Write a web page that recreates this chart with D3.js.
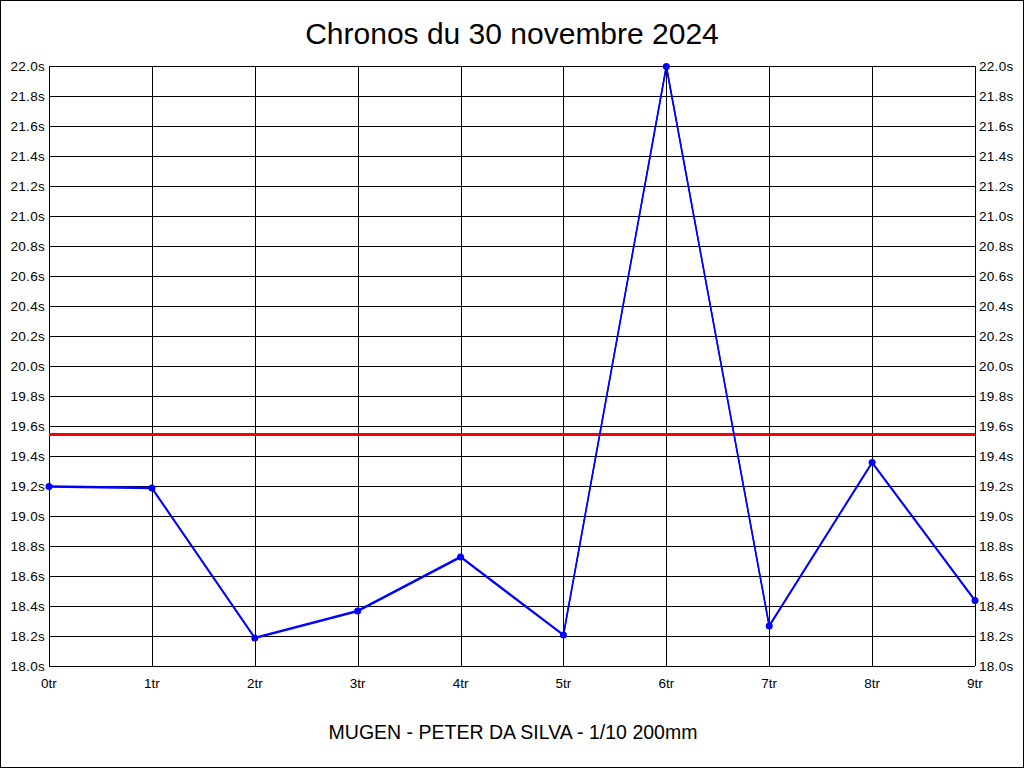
<!DOCTYPE html>
<html>
<head>
<meta charset="utf-8">
<script src="https://cdn.jsdelivr.net/npm/d3@7/dist/d3.min.js"></script>
<style>
  body { margin: 0; background: white; }
  text { font-family: "Liberation Sans", Arial, sans-serif; }
</style>
</head>
<body>
<script>
var width = 1024
var height = 768

var titleText = "Chronos du 30 novembre 2024"
var footerText = "MUGEN - PETER DA SILVA - 1/10 200mm"

// laps and times (seconds)
var laps = ["0tr", "1tr", "2tr", "3tr", "4tr", "5tr", "6tr", "7tr", "8tr", "9tr"]
var times = [19.20, 19.19, 18.19, 18.37, 18.73, 18.21, 22.00, 18.27, 19.36, 18.44]
var refTime = 19.545
var yTicks = [18.0, 18.2, 18.4, 18.6, 18.8, 19.0, 19.2, 19.4, 19.6, 19.8, 20.0,
              20.2, 20.4, 20.6, 20.8, 21.0, 21.2, 21.4, 21.6, 21.8, 22.0]

var lineColor = "#0000ff"
var refColor = "#ff0000"

var margin = { left: 49, right: 49, top: 66, bottom: 102 }

var svg = d3.select("body")
    .append("svg")
    .attr("width", width)
    .attr("height", height)

// outer frame
svg.append("rect")
    .attr("x", 0.5).attr("y", 0.5)
    .attr("width", width - 1).attr("height", height - 1)
    .attr("fill", "white")
    .attr("stroke", "black")

var x = d3.scalePoint()
    .domain(laps)
    .range([margin.left, width - margin.right])

var y = d3.scaleLinear()
    .domain([18, 22])
    .range([height - margin.bottom, margin.top])

var grid = svg.append("g")
    .attr("shape-rendering", "crispEdges")
    .attr("stroke", "black")

grid.selectAll(".hgrid")
    .data(yTicks)
    .enter()
    .append("line")
    .attr("x1", margin.left).attr("x2", width - margin.right)
    .attr("y1", (d) => Math.round(y(d)) + 0.5)
    .attr("y2", (d) => Math.round(y(d)) + 0.5)

grid.selectAll(".vgrid")
    .data(laps)
    .enter()
    .append("line")
    .attr("x1", (d) => Math.round(x(d)) + 0.5)
    .attr("x2", (d) => Math.round(x(d)) + 0.5)
    .attr("y1", margin.top).attr("y2", height - margin.bottom)

// y labels, left and right
var fmt = (d) => d3.format(".1f")(d) + "s"

svg.selectAll(".ylabL")
    .data(yTicks)
    .enter()
    .append("text")
    .attr("x", margin.left - 4)
    .attr("y", (d) => y(d) + 5)
    .attr("text-anchor", "end")
    .attr("font-size", 13.5)
    .attr("letter-spacing", 0.3)
    .text(fmt)

svg.selectAll(".ylabR")
    .data(yTicks)
    .enter()
    .append("text")
    .attr("x", width - margin.right + 4)
    .attr("y", (d) => y(d) + 5)
    .attr("font-size", 13.5)
    .attr("letter-spacing", 0.3)
    .text(fmt)

svg.selectAll(".xlab")
    .data(laps)
    .enter()
    .append("text")
    .attr("x", (d) => x(d))
    .attr("y", height - margin.bottom + 22)
    .attr("text-anchor", "middle")
    .attr("font-size", 13.5)
    .text((d) => d)

// reference line
svg.append("line")
    .attr("x1", margin.left).attr("x2", width - margin.right)
    .attr("y1", y(refTime)).attr("y2", y(refTime))
    .attr("stroke", refColor)
    .attr("stroke-width", 3)
    .attr("shape-rendering", "crispEdges")

// lap times line, drawn twice one pixel apart like the original
var line = d3.line()
    .x((d, i) => x(laps[i]))
    .y((d) => y(d))

svg.selectAll(".lap")
    .data([0, 1])
    .enter()
    .append("path")
    .attr("d", line(times))
    .attr("transform", (d) => "translate(0," + d + ")")
    .attr("fill", "none")
    .attr("stroke", lineColor)
    .attr("stroke-width", 1.5)

svg.selectAll(".dot")
    .data(times)
    .enter()
    .append("circle")
    .attr("cx", (d, i) => x(laps[i]))
    .attr("cy", (d) => y(d) + 0.5)
    .attr("r", 3.5)
    .attr("fill", lineColor)

svg.append("text")
    .attr("x", width / 2)
    .attr("y", 44)
    .attr("text-anchor", "middle")
    .attr("font-size", 30)
    .text(titleText)

svg.append("text")
    .attr("x", width / 2 + 1)
    .attr("y", 739)
    .attr("text-anchor", "middle")
    .attr("font-size", 19.5)
    .text(footerText)
</script>
</body>
</html>
